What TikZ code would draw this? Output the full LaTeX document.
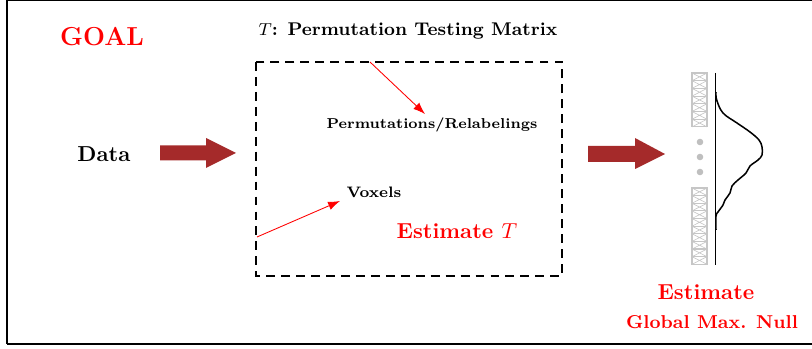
\documentclass[tikz,border=0pt]{standalone}
\usetikzlibrary{arrows.meta}
\definecolor{fatarrow}{RGB}{165,42,42}
\begin{document}
\begin{tikzpicture}[x=0.4615pt,y=-0.4615pt,
  lbl/.style={font=\bfseries, inner sep=0pt},
  redlbl/.style={lbl, text=red},
  thin arrow/.style={red, line width=0.4pt, -{Latex[length=5.5pt,width=4pt]}},
  cell/.style={draw=gray!45, line width=0.5pt},
  fat/.style={fill=fatarrow, draw=none}]
\useasboundingbox (0,0) rectangle (812,349);
% outer frame (right side runs past the page edge)
\draw[line width=0.5pt] (7,344) -- (7,0.6) -- (820,0.6);
\draw[line width=0.5pt] (7,344) -- (820,344);

% labels
\node[redlbl, font=\large\bfseries] (goal) at (102,37) {GOAL};
\node[lbl, font=\fontsize{8.5pt}{10pt}\selectfont\bfseries] (title) at (408,31) {$T$: Permutation Testing Matrix};
\node[lbl] (data) at (104,154) {Data};

% matrix box
\draw[line width=0.7pt, dash pattern=on 4.1pt off 2.8pt] (256,62) rectangle (562,276);
\node[lbl, font=\fontsize{6.6pt}{8pt}\selectfont\bfseries] (perm) at (432,125) {Permutations/Relabelings};
\node[lbl, font=\scriptsize\bfseries] (vox) at (374,192) {Voxels};
\node[redlbl] (estT) at (457,231) {Estimate $T$};
\coordinate (permfrom) at (370,62);
\coordinate (permto) at (425,114);
\coordinate (voxfrom) at (257,237);
\coordinate (voxto) at (340,201);
\draw[thin arrow] (permfrom) -- (permto);
\draw[thin arrow] (voxfrom) -- (voxto);

% fat arrows
\coordinate (a1) at (160,153);
\coordinate (a2) at (588,154);
\fill[fat] (a1) ++(0,-7.5) -- ++(46,0) -- ++(0,-7.5) -- ++(30,15) -- ++(-30,15) -- ++(0,-7.5) -- ++(-46,0) -- cycle;
\fill[fat] (a2) ++(0,-8) -- ++(47,0) -- ++(0,-8) -- ++(30,16) -- ++(-30,15) -- ++(0,-7) -- ++(-47,0) -- cycle;

% stacked statistic cells
\foreach \i in {0,...,6} {
  \pgfmathsetmacro{\yt}{73+7.7*\i}
  \draw[cell] (692,\yt) rectangle (707,\yt+7.7);
  \draw[cell, line width=0.3pt] (692,\yt) -- (707,\yt+7.7) (692,\yt+7.7) -- (707,\yt);
}
\foreach \i in {0,...,9} {
  \pgfmathsetmacro{\yt}{188+7.63*\i}
  \draw[cell] (692,\yt) rectangle (707,\yt+7.63);
  \draw[cell, line width=0.3pt] (692,\yt) -- (707,\yt+7.63) (692,\yt+7.63) -- (707,\yt);
}
\foreach \y in {142,157,172} \fill[gray!50] (700,\y) circle (3.3);

% null distribution
\draw[line width=0.6pt] (715.3,73) -- (715.3,265);
\draw[line width=0.7pt] plot[smooth, tension=0.6] coordinates {
  (716,92) (716.7,100) (723,113) (737,123) (750,132) (759,140) (762,147)
  (762,155) (758,160) (750,166) (746,173) (738,180) (732,186) (730,193)
  (725,200) (723,205) (718,212) (716,216) (716,230)};

\node[redlbl] (est) at (706,292) {Estimate};
\node[redlbl, font=\fontsize{8.6pt}{10pt}\selectfont\bfseries] (gmn) at (712,322) {Global Max. Null};
\end{tikzpicture}
\end{document}
